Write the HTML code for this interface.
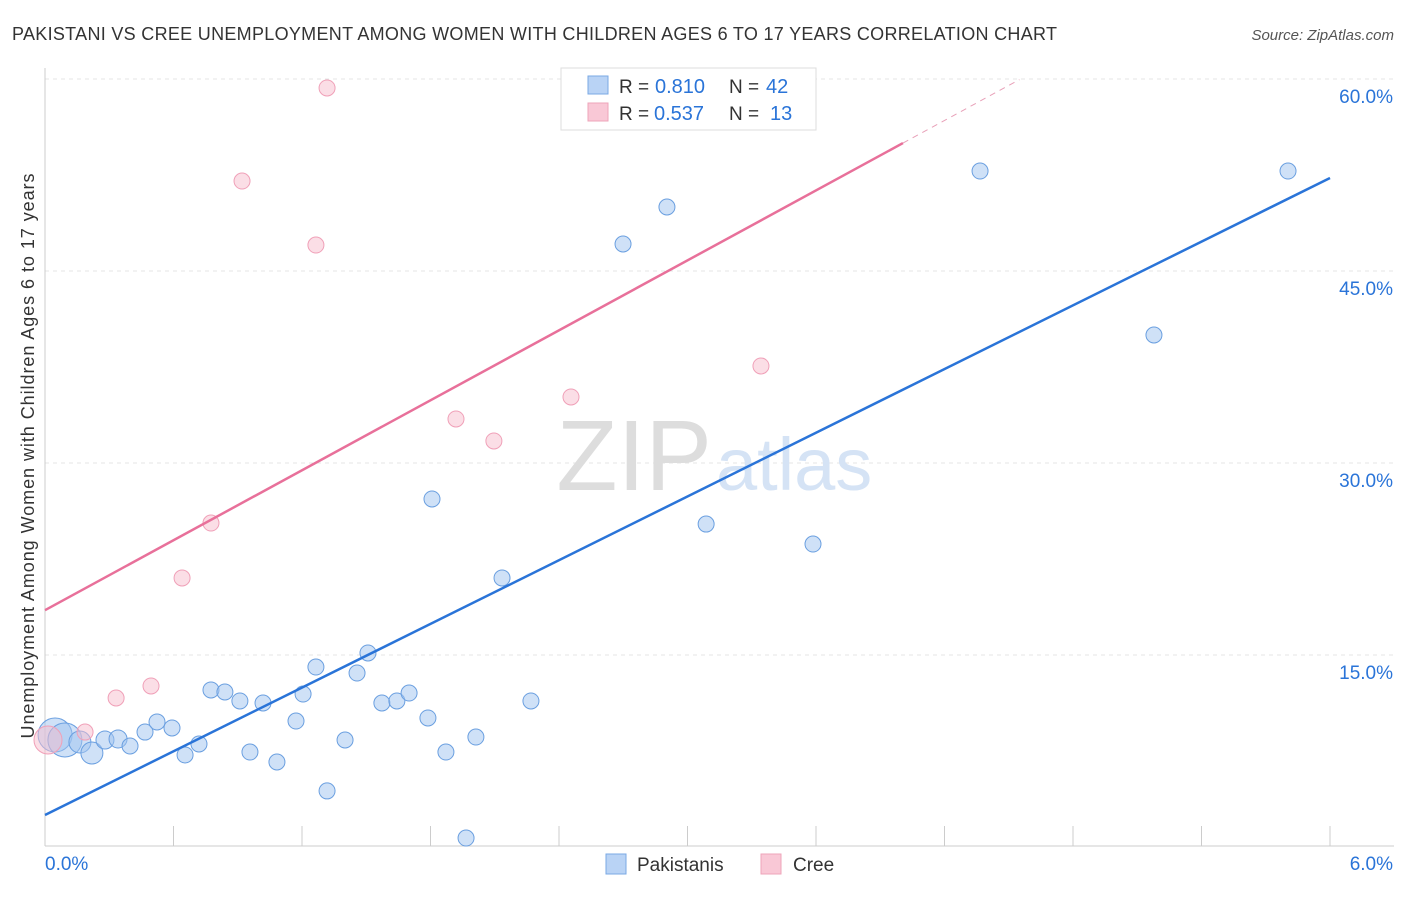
<!DOCTYPE html>
<html><head><meta charset="utf-8"><style>
body{margin:0;background:#fff;font-family:"Liberation Sans",sans-serif;}
svg text{font-family:"Liberation Sans",sans-serif;}
</style></head><body>
<svg id="chart" width="1406" height="892">
<text x="12" y="40" font-size="18" fill="#333" textLength="1045">PAKISTANI VS CREE UNEMPLOYMENT AMONG WOMEN WITH CHILDREN AGES 6 TO 17 YEARS CORRELATION CHART</text>
<text x="1394" y="40" font-size="15" fill="#555" font-style="italic" text-anchor="end">Source: ZipAtlas.com</text>
<text x="0" y="0" transform="translate(34,456) rotate(-90)" font-size="18" fill="#333" text-anchor="middle" textLength="565">Unemployment Among Women with Children Ages 6 to 17 years</text>
<g id="grid"></g>
<text x="712" y="490" font-size="100" fill="#ddd" font-family="Liberation Serif" text-anchor="end">ZIP</text>
<text x="716" y="490" font-size="74" fill="#d5e3f5">atlas</text>
<g id="marks"></g>
<g>
<rect x="561" y="68" width="255" height="62" fill="#fff" stroke="#ddd"/>
<rect x="588" y="76" width="20" height="18" fill="#b9d3f5" stroke="#7aa8e4"/>
<rect x="588" y="103" width="20" height="18" fill="#f9c8d6" stroke="#eea4ba"/>
<text x="619" y="93" font-size="19" fill="#333">R =</text>
<text x="655" y="93" font-size="20" fill="#2a74d8">0.810</text>
<text x="729" y="93" font-size="19" fill="#333">N =</text>
<text x="766" y="93" font-size="20" fill="#2a74d8">42</text>
<text x="619" y="120" font-size="19" fill="#333">R =</text>
<text x="654" y="120" font-size="20" fill="#2a74d8">0.537</text>
<text x="729" y="120" font-size="19" fill="#333">N =</text>
<text x="770" y="120" font-size="20" fill="#2a74d8">13</text>
</g>
<g>
<rect x="606" y="854" width="20" height="20" fill="#b9d3f5" stroke="#7aa8e4"/>
<text x="637" y="871" font-size="19" fill="#333">Pakistanis</text>
<rect x="761" y="854" width="20" height="20" fill="#f9c8d6" stroke="#eea4ba"/>
<text x="793" y="871" font-size="19" fill="#333">Cree</text>
</g>
</svg>
<script>
const blueX=[0.047,0.093,0.163,0.219,0.280,0.341,0.397,0.467,0.523,0.593,0.654,0.719,0.775,0.840,0.910,0.957,1.018,1.083,1.172,1.205,1.265,1.317,1.401,1.457,1.508,1.573,1.643,1.700,1.788,1.807,1.872,1.966,2.012,2.134,2.269,2.699,2.904,3.087,3.586,4.366,5.178,5.804];
const blueY=[8.75,8.36,8.20,7.34,8.36,8.44,7.89,8.98,9.77,9.30,7.19,8.05,12.27,12.11,11.41,7.42,11.25,6.64,9.84,11.95,14.06,4.38,8.36,13.59,15.16,11.25,11.41,12.03,10.08,27.19,7.42,0.70,8.59,21.02,11.41,47.11,50.0,25.23,23.67,52.81,40.0,52.81];
const blueR=[17,17,11,11,9,9,8,8,8,8,8,8,8,8,8,8,8,8,8,8,8,8,8,8,8,8,8,8,8,8,8,8,8,8,8,8,8,8,8,8,8,8];
const pinkX=[0.014,0.187,0.332,0.495,0.640,0.775,0.920,1.265,1.317,1.919,2.096,2.456,3.343];
const pinkY=[8.36,8.98,11.64,12.58,21.02,25.31,52.03,47.03,59.3,33.44,31.72,35.16,37.58];
const pinkR=[14,8,8,8,8,8,8,8,8,8,8,8,8];
const yTicks=[15,30,45,60];
const yTickLabels=["15.0%","30.0%","45.0%","60.0%"];
const blueLine=[2.5,52.27];
const pinkLine=[18.5,9.11];
const NS="http://www.w3.org/2000/svg";
const sx=v=>45+v/6*1285, sy=v=>847-v*12.8;
function mk(t,a,p){const e=document.createElementNS(NS,t);for(const k in a)e.setAttribute(k,a[k]);p.appendChild(e);return e;}
const g=document.getElementById('grid'), m=document.getElementById('marks');
yTicks.forEach((t,i)=>{
 const l=mk('line',{x1:45,x2:1394,y1:sy(t),y2:sy(t),stroke:'#e4e4e4','stroke-dasharray':'4,4'},g);
 
 
 const tx=mk('text',{x:1393,y:sy(t)+24,'font-size':19,fill:'#2a74d8','text-anchor':'end'},g);
 tx.textContent=yTickLabels[i];
 
 
});
mk('line',{x1:45,x2:45,y1:68,y2:846,stroke:'#ccc'},g);
mk('line',{x1:45,x2:1394,y1:846,y2:846,stroke:'#ccc'},g);
for(let i=0;i<=10;i++){const t=mk('line',{x1:sx(i*0.6),x2:sx(i*0.6),y1:826,y2:846,stroke:'#ccc'},g);
 
 }
const x0=mk('text',{x:45,y:870,'font-size':19,fill:'#2a74d8'},g);x0.textContent='0.0%';


const x6=mk('text',{x:1393,y:870,'font-size':19,fill:'#2a74d8','text-anchor':'end'},g);x6.textContent='6.0%';


blueX.forEach((x,i)=>{const c=mk('circle',{cx:sx(x),cy:sy(blueY[i]),r:blueR[i],fill:'rgba(160,196,240,0.5)',stroke:'#6a9fe0','stroke-width':1},m);
 
 });
pinkX.forEach((x,i)=>{const c=mk('circle',{cx:sx(x),cy:sy(pinkY[i]),r:pinkR[i],fill:'rgba(248,190,205,0.5)',stroke:'#f0a0b8','stroke-width':1},m);
 
 });
const bl=mk('line',{x1:sx(0),y1:sy(blueLine[0]),x2:sx(6),y2:sy(blueLine[1]),stroke:'#2a74d8','stroke-width':2.5},m);


const pe=4.006, pd=4.55;
const pl=mk('line',{x1:sx(0),y1:sy(pinkLine[0]),x2:sx(pe),y2:sy(pinkLine[0]+pinkLine[1]*pe),stroke:'#e8709a','stroke-width':2.5},m);


const pdl=mk('line',{x1:sx(pe),y1:sy(pinkLine[0]+pinkLine[1]*pe),x2:sx(pd),y2:sy(pinkLine[0]+pinkLine[1]*pd),stroke:'#e8a0b8','stroke-width':1,'stroke-dasharray':'6,5'},m);


</script>
</body></html>
